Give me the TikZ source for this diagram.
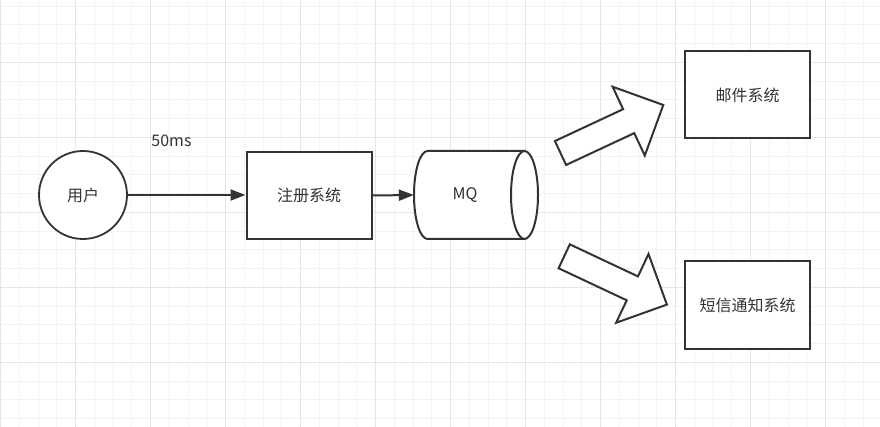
\documentclass[tikz,border=0pt]{standalone}
\usepackage{fontspec}
\setmainfont{Noto Sans CJK SC}
\usetikzlibrary{arrows.meta}
\definecolor{ink}{HTML}{333333}
\definecolor{gridminor}{HTML}{F3F3F3}
\definecolor{gridmajor}{HTML}{E6E6E6}
\tikzset{
  sysbox/.style={draw=ink, line width=2pt, fill=white, minimum width=125pt, minimum height=87pt, inner sep=0pt, text=ink, font=\fontsize{16pt}{18pt}\selectfont},
  usercircle/.style={circle, draw=ink, line width=1.8pt, fill=white, minimum size=88pt, inner sep=0pt, text=ink, font=\fontsize{16pt}{18pt}\selectfont},
  flow/.style={draw=ink, line width=2pt, -{Triangle[length=15pt,width=11pt]}},
  blockarrow/.style={draw=ink, line width=2pt, fill=white, line join=miter},
  lbl/.style={text=ink, font=\fontsize{16pt}{18pt}\selectfont, inner sep=0pt},
}
\begin{document}
\begin{tikzpicture}[x=1pt,y=-1pt]
\useasboundingbox (0,0) rectangle (880,427);
\fill[white] (0,0) rectangle (880,427);
% grid
\foreach \i in {0,...,47} {
  \draw[gridminor, line width=1pt] ({0.7+18.75*\i},0) -- ({0.7+18.75*\i},427);
}
\foreach \j in {0,...,22} {
  \draw[gridminor, line width=1pt] (0,{6.05+18.75*\j}) -- (880,{6.05+18.75*\j});
}
\foreach \i in {0,...,11} {
  \draw[gridmajor, line width=1pt] ({0.7+75*\i},0) -- ({0.7+75*\i},427);
}
\foreach \j in {0,...,5} {
  \draw[gridmajor, line width=1pt] (0,{-12.7+75*\j}) -- (880,{-12.7+75*\j});
}
% nodes
\node[usercircle] (user) at (83,195) {用户};
\node[sysbox] (reg) at (309,195.5) {注册系统};
\node[sysbox] (mail) at (747.5,95) {邮件系统};
\node[sysbox] (sms) at (747.5,305) {短信通知系统};
% MQ cylinder
\node[minimum width=124pt, minimum height=88pt, inner sep=0pt] (mq) at (476,195) {};
\draw[draw=ink, line width=2pt, fill=white]
  (427.5,151) -- (524.5,151) -- (524.5,239) -- (427.5,239)
  arc[start angle=90, end angle=270, x radius=13.5, y radius=44] -- cycle;
\draw[draw=ink, line width=2pt, fill=white] (524.5,195) ellipse [x radius=13.5, y radius=44];
\node[lbl] (mqlabel) at (465,195) {MQ};
% connectors
\draw[flow] (user) -- (reg.west |- user.east);
\draw[flow] (reg.east) -- (mq.west);
\node[lbl] (lat) at (171.5,140.5) {50ms};
% block arrows
\draw[blockarrow] (566.08,164.96) -- (554.92,141.04) -- (623.12,109.2) -- (612.63,86.74)
  -- (663.3,105.0) -- (644.77,155.58) -- (634.28,133.12) -- cycle;
\draw[blockarrow] (569.82,244.36) -- (637.96,276.42) -- (648.52,253.97) -- (666.9,304.6)
  -- (616.16,322.75) -- (626.72,300.3) -- (558.58,268.24) -- cycle;
\end{tikzpicture}
\end{document}
